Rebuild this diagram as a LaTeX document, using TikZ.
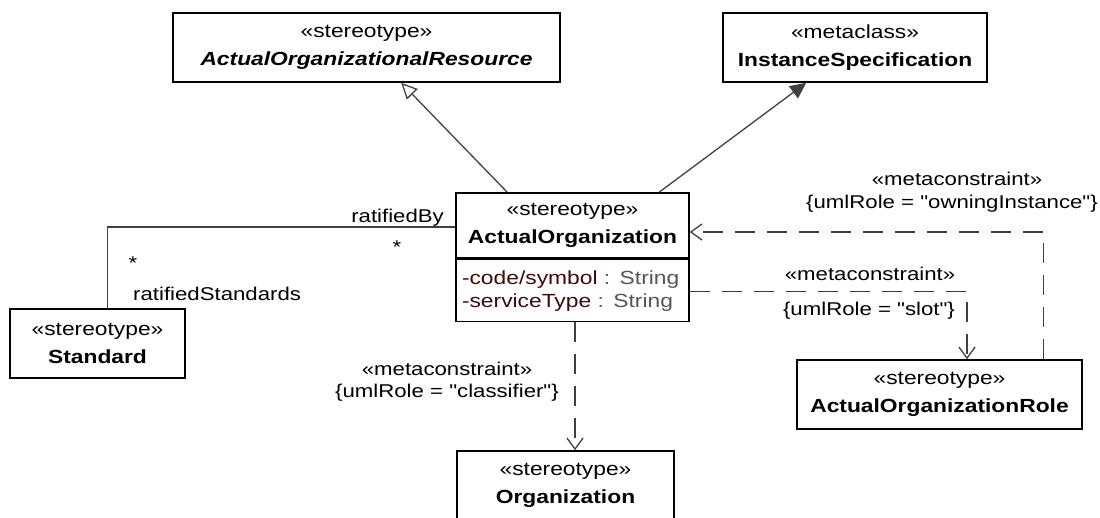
\documentclass[tikz,border=0pt]{standalone}
\usepackage{fontspec}
\setmainfont{Liberation Sans}[FakeStretch=1.2, Ligatures=TeXOff]
\usetikzlibrary{positioning, arrows.meta}
\definecolor{umlLine}{RGB}{64,64,64}
\definecolor{umlAttr}{RGB}{64,8,8}
\definecolor{umlType}{RGB}{85,85,85}
\tikzset{
  base/.style={
    align=center, inner sep=0pt, text=black,
    font=\fontsize{19}{28}\selectfont
  },
  classbox/.style={
    base, rectangle, draw=black, line width=1.6pt,
    minimum height=69pt
  },
  attrbox/.style={
    rectangle, draw=black, line width=1.6pt,
    align=left, inner xsep=6pt, inner ysep=0pt,
    font=\fontsize{19}{23}\selectfont
  },
  gen/.style={
    -{Triangle[open, length=16pt, width=15pt]},
    line width=1.3pt, color=umlLine
  },
  comp/.style={
    -{Triangle[length=16pt, width=15pt]},
    line width=1.3pt, color=umlLine
  },
  assoc/.style={
    line width=1.3pt, color=umlLine
  },
  meta/.style={
    -{Straight Barb[length=11pt, width=16pt]},
    line width=1.3pt, color=umlLine, dash pattern=on 20pt off 12pt
  },
  lbl/.style={
    font=\fontsize{18.5}{23}\selectfont, text=black,
    inner sep=0pt, anchor=base
  }
}

\begin{document}
\begin{tikzpicture}[x=1pt, y=-1pt]
    \useasboundingbox (0,0) rectangle (1100,517);

    % ============================================================
    % CLASS BOXES
    % ============================================================
    \node (aor) [classbox, minimum width=387pt] at (366.5,47.5) {
      «stereotype»\\
      \textbf{\textit{ActualOrganizationalResource}}
    };

    \node (is) [classbox, minimum width=264pt] at (855,47.5) {
      «metaclass»\\
      \textbf{InstanceSpecification}
    };

    \node (ao) [classbox, minimum width=233pt, minimum height=65pt] at (572.5,225.5) {
      «stereotype»\\
      \textbf{ActualOrganization}
    };

    \node (attr) [attrbox, below=0pt of ao, text width=221pt, minimum height=62pt] {
      {\color{umlAttr}-code/symbol} {\color{umlType}: String}\\
      {\color{umlAttr}-serviceType} {\color{umlType}: String}
    };

    \node (std) [classbox, minimum width=175pt] at (97.5,343.5) {
      «stereotype»\\
      \textbf{Standard}
    };

    \node (role) [classbox, minimum width=285pt] at (939.5,394.5) {
      «stereotype»\\
      \textbf{ActualOrganizationRole}
    };

    \node (org) [classbox, minimum width=217pt] at (565.5,485.5) {
      «stereotype»\\
      \textbf{Organization}
    };

    % ============================================================
    % CONNECTORS
    % ============================================================
    % Generalization and metaclass link
    \draw [gen] ([xshift=52pt]ao.north west) -- ([xshift=229pt]aor.south west);
    \draw [comp] ([xshift=204pt]ao.north west) -- ([xshift=84pt]is.south west);

    % Association to Standard
    \draw [assoc] ([xshift=98pt]std.north west) |- ([yshift=-1.5pt]ao.west);

    % Metaconstraints
    \draw [meta] ([xshift=-39pt]role.north east) |- ([yshift=-6.5pt]ao.east);
    \draw [meta] ([yshift=-1pt]attr.east) -| ([xshift=27.5pt]role.north);
    \draw [meta] ([xshift=2.5pt]attr.south) -- ([xshift=9.5pt]org.north);

    % ============================================================
    % LABELS
    % ============================================================
    \node (byName) [lbl, anchor=base east] at (444,222) {ratifiedBy};
    \node (byMult) [lbl] at (397,253) {*};
    \node (stdMult) [lbl] at (133,269) {*};
    \node (stdName) [lbl, anchor=base west] at (133,300) {ratifiedStandards};

    \node (ownSt) [lbl] at (957,185) {«metaconstraint»};
    \node (ownRole) [lbl] at (952,208) {\{umlRole = "owningInstance"\}};
    \node (slotSt) [lbl] at (870,280) {«metaconstraint»};
    \node (slotRole) [lbl] at (869,315) {\{umlRole = "slot"\}};
    \node (clsSt) [lbl] at (447,375) {«metaconstraint»};
    \node (clsRole) [lbl] at (447,397) {\{umlRole = "classifier"\}};

\end{tikzpicture}
\end{document}
